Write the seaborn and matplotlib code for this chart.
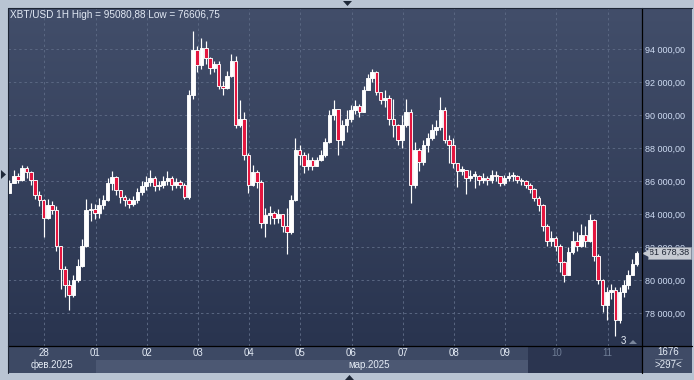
import numpy as np
import matplotlib
matplotlib.use("Agg")
import matplotlib.pyplot as plt
import matplotlib.transforms as mtransforms
from matplotlib.colors import LinearSegmentedColormap
from matplotlib.patches import Rectangle, Polygon
from matplotlib.lines import Line2D
import seaborn as sns

sns.set_theme(style="dark")
plt.rcParams['font.family'] = ['Liberation Sans', 'DejaVu Sans']

# ---------------- data ----------------
title = "XBT/USD 1H High = 95080,88 Low = 76606,75"
first_open = 85300
closes = [85900, 86350, 86050, 86800, 86550, 86050, 85150, 84850, 83750, 84550,
          84250, 82100, 80700, 79700, 79100, 80000, 80900, 82100, 84250, 84350,
          84100, 84550, 84850, 85900, 86250, 85450, 85050, 84850, 84600, 84850,
          85350, 85700, 85950, 86200, 85700, 85800, 86000, 86200, 85800, 85950,
          85800, 85050, 91200, 93950, 93030, 94050, 93450, 92850, 93100, 91800,
          91650, 92400, 93300, 89400, 89800, 87600, 85750, 86550, 85950, 83500,
          83950, 84100, 83750, 84000, 83300, 82900, 84850, 87900, 87600, 86900,
          87300, 86950, 87300, 87600, 88400, 90000, 90400, 88500, 89400, 89800,
          90300, 90550, 90200, 91500, 92250, 92600, 91400, 90900, 91050, 89800,
          89400, 88500, 89400, 90200, 85750, 87900, 87150, 88200, 88600, 89100,
          89300, 90300, 88500, 88200, 87100, 86650, 86700, 86200, 86350, 86350,
          86050, 86200, 86050, 86400, 86300, 85900, 86200, 86300, 86300, 86050,
          86000, 85800, 85550, 85000, 84550, 83300, 82400, 82550, 82100, 81100,
          80300, 81700, 82400, 82100, 82750, 82400, 83650, 81500, 80000, 78500,
          79300, 79400, 77600, 79300, 79700, 80300, 81000, 81678.38]
highs = [86100, 86700, 86500, 87000, 86950, 86600, 86100, 85400, 84900, 84900,
         84800, 84500, 82100, 80900, 80000, 80300, 81300, 82500, 84900, 84700,
         84600, 85000, 85200, 86200, 86600, 86300, 85500, 85200, 85000, 85100,
         85600, 86000, 86300, 86700, 86300, 86000, 86300, 86600, 86300, 86200,
         86100, 85900, 91500, 95080.88, 94200, 94700, 94500, 93500, 93300, 93300,
         92100, 92700, 93700, 93600, 90900, 90200, 87700, 87000, 86700, 86100,
         84400, 84500, 84200, 84300, 84000, 84400, 85200, 88600, 88200, 87800,
         87700, 87500, 87500, 87900, 88600, 90300, 90900, 90400, 89700, 90300,
         90600, 90900, 90700, 91800, 92500, 92800, 92700, 91400, 91500, 91200,
         91000, 89500, 90000, 91000, 90400, 88400, 88000, 88500, 88900, 89500,
         89700, 91100, 90500, 88800, 88600, 87100, 86900, 86500, 86700, 86600,
         86400, 86500, 86300, 86700, 86600, 86300, 86400, 86550, 86550, 86400,
         86200, 86100, 85900, 85600, 85100, 84600, 83400, 83000, 82700, 82200,
         81200, 82000, 83000, 82900, 83400, 83300, 84000, 83700, 81600, 80100,
         79600, 79800, 79600, 79600, 80000, 80600, 81300, 81800]
lows = [85300, 85900, 85900, 86000, 86200, 85800, 84900, 84500, 82600, 83700,
        84000, 81800, 79500, 79000, 78200, 79000, 79900, 80800, 82000, 83600,
        83700, 83800, 84300, 84800, 85500, 85200, 84700, 84500, 84400, 84500,
        84700, 85200, 85500, 85700, 85400, 85500, 85600, 85800, 85500, 85600,
        85600, 84900, 84900, 91000, 92600, 92800, 93100, 92500, 92600, 91600,
        91200, 91600, 92300, 89200, 89300, 87300, 85300, 85700, 85600, 83200,
        82600, 83400, 83400, 83500, 82900, 81600, 82800, 84800, 87000, 86500,
        86700, 86700, 86900, 87200, 87500, 88300, 89700, 87600, 88200, 89000,
        89600, 90100, 89900, 90200, 91500, 92000, 91200, 90700, 90500, 89400,
        88700, 88200, 88000, 89300, 84700, 85600, 86600, 87000, 87800, 88500,
        88800, 89100, 88300, 87100, 86800, 85650, 86400, 85260, 86000, 85600,
        85800, 85900, 85800, 85900, 86000, 85700, 85800, 86000, 86000, 85900,
        85800, 85600, 85300, 84800, 84200, 83000, 82100, 82100, 81800, 80500,
        79900, 80300, 81600, 81800, 82000, 82000, 82300, 81200, 79800, 78100,
        77600, 78900, 76606.75, 77400, 79000, 79500, 80300, 80900]
start_day = -0.68          # first candle, days from 28 Feb 00:00
step_day = 2 / 24          # candle spacing
day_labels = ["28", "01", "02", "03", "04", "05", "06", "07", "08", "09", "10", "11"]
month_labels = ["фев.2025", "мар.2025"]
price_ticks = [78000, 80000, 82000, 84000, 86000, 88000, 90000, 92000, 94000]
last_price_label = "81 678,38"
bar_count_top = "1676"
bar_count_bottom = ">297<"

# ---------------- figure ----------------
W, H = 694, 380
fig = plt.figure(figsize=(W / 100, H / 100), dpi=100)
fig.patch.set_facecolor('#b9c4d3')


def fx(x):
    return x / W


def fy(y):
    return 1 - y / H


def px_axes(x0, y0, x1, y1):
    return fig.add_axes([fx(x0), fy(y1), (x1 - x0) / W, (y1 - y0) / H])


# gradient background behind chart + price scale
bg = px_axes(8, 8, 692, 346)
cmap = LinearSegmentedColormap.from_list("bg", ['#424e6a', '#29344f'])
bg.imshow(np.linspace(0, 1, 256).reshape(-1, 1), aspect='auto', cmap=cmap,
          extent=[0, 1, 0, 1])
bg.set_axis_off()

xlim0 = (8 - 44.3) / 51.2
xlim1 = (642 - 44.3) / 51.2
ylim0, ylim1 = 76025, 96495

ax = px_axes(8, 8, 642, 346)
ax.set_facecolor('none')
ax.set_xlim(xlim0, xlim1)
ax.set_ylim(ylim0, ylim1)
for s in ax.spines.values():
    s.set_visible(False)
ax.grid(False)

# grid
for p in price_ticks:
    ax.axhline(p, color='#5a6782', lw=0.7, ls=(0, (2.5, 3)), zorder=0)
for d in range(len(day_labels)):
    ax.axvline(d, color='#5a6782', lw=0.7, ls=(0, (2.5, 3)), zorder=0)

# candles
closes_a = np.array(closes, dtype=float)
opens_a = np.concatenate([[first_open], closes_a[:-1]])
highs_a = np.maximum(np.array(highs, dtype=float), np.maximum(opens_a, closes_a))
lows_a = np.minimum(np.array(lows, dtype=float), np.minimum(opens_a, closes_a))
xs = start_day + step_day * np.arange(len(closes_a))
up = closes_a >= opens_a
ax.vlines(xs, lows_a, highs_a, color='white', lw=0.85, zorder=2)
bottoms = np.minimum(opens_a, closes_a)
heights = np.maximum(np.abs(closes_a - opens_a), 90)
cols = np.where(up, '#ffffff', '#e4163f')
ax.bar(xs, heights, bottom=bottoms, width=0.07, color=cols, edgecolor='white',
       linewidth=0.65, zorder=3)

# price scale on the right
ax.set_xticks([])
ax.yaxis.tick_right()
ax.set_yticks(price_ticks)
ax.set_yticklabels([f"{p // 1000} {p % 1000:03d},00" for p in price_ticks])
ax.tick_params(axis='y', length=0, pad=2.3, labelsize=6.5, labelcolor='#cfdcf3')

# last price tag
trans = mtransforms.blended_transform_factory(ax.transAxes, ax.transData)
ax.text(1.0115, closes_a[-1], last_price_label, transform=trans, ha='left', va='center',
        fontsize=6.5, color='#1d2433', clip_on=False, zorder=6,
        bbox=dict(boxstyle='square,pad=0.18', fc='#c6cad2', ec='#8e96a4', lw=0.5))
ax.plot([1.006], [closes_a[-1]], marker='<', ms=4, color='#c6cad2', transform=trans,
        clip_on=False, zorder=6)

# "3" marker at the bottom right of chart
fig.text(fx(623), fy(341), "3", ha='center', va='center', fontsize=7, color='#e6ecf5')
fig.patches.append(Polygon([[fx(629), fy(344)], [fx(637), fy(344)], [fx(633), fy(340)]],
                           closed=True, transform=fig.transFigure, fc='#7a869b', ec='none'))

# ---------------- time panel ----------------
bp = px_axes(8, 346, 642, 373)
bp.set_xlim(xlim0, xlim1)
bp.set_ylim(0, 1)
bp.set_facecolor('#3d4964')
bp.set_xticks([])
bp.set_yticks([])
for s in bp.spines.values():
    s.set_visible(False)
dark_start = (528 - 44.3) / 51.2
bp.add_patch(Rectangle((1.0, 0), dark_start - 1.0, 0.5, fc='#4c5873', ec='none'))
bp.add_patch(Rectangle((dark_start, 0), xlim1 - dark_start, 1, fc='#2b3550', ec='none'))
for d, lab in enumerate(day_labels):
    c = '#6f7d96' if d > dark_start else '#e4ebf5'
    bp.text(d, 0.74, lab, ha='center', va='center', fontsize=7, color=c)
bp.text((xlim0 + 1.0) / 2, 0.31, month_labels[0], ha='center', va='center',
        fontsize=7, color='#e4ebf5')
bp.text((1.0 + xlim1) / 2, 0.31, month_labels[1], ha='center', va='center',
        fontsize=7, color='#e4ebf5')

# bottom-right box
br = px_axes(642, 346, 692, 373)
br.set_facecolor('#3f4b66')
br.set_xticks([])
br.set_yticks([])
for s in br.spines.values():
    s.set_visible(False)
fig.text(fx(668), fy(352), bar_count_top, ha='center', va='center', fontsize=7,
         color='#e4ebf5')
fig.add_artist(Line2D([fx(655), fx(682)], [fy(358.5), fy(358.5)], color='#7d889c', lw=0.6))
fig.text(fx(668), fy(365), bar_count_bottom, ha='center', va='center', fontsize=7,
         color='#e4ebf5')

# frame lines
fig.add_artist(Line2D([fx(642), fx(642)], [fy(8), fy(373)], color='black', lw=0.9))
fig.add_artist(Line2D([fx(8), fx(692)], [fy(346), fy(346)], color='black', lw=0.9))
fig.add_artist(Line2D([fx(8), fx(692)], [fy(7.5), fy(7.5)], color='#1d2535', lw=0.8))
fig.add_artist(Line2D([fx(7.5), fx(7.5)], [fy(7.5), fy(373)], color='#1d2535', lw=0.8))

# title
fig.text(fx(10), fy(15), title, ha='left', va='center', fontsize=7.2, color='#e2e9f4')

# small navigation triangles in the outer frame
tri_c = '#1e2838'
fig.patches.append(Polygon([[fx(343), fy(1)], [fx(352), fy(1)], [fx(347.5), fy(6)]],
                           closed=True, transform=fig.transFigure, fc=tri_c, ec='none'))
fig.patches.append(Polygon([[fx(345), fy(380)], [fx(354), fy(380)], [fx(349.5), fy(375)]],
                           closed=True, transform=fig.transFigure, fc=tri_c, ec='none'))
fig.patches.append(Polygon([[fx(1), fy(170)], [fx(1), fy(179)], [fx(6), fy(174.5)]],
                           closed=True, transform=fig.transFigure, fc=tri_c, ec='none'))

fig.savefig("out.png", dpi=100, facecolor=fig.get_facecolor())
